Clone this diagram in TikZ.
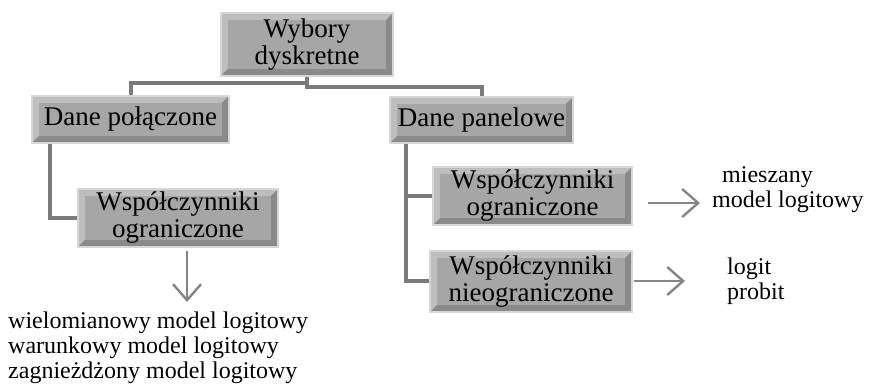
\documentclass[tikz,border=0pt]{standalone}
\usepackage{fontspec}
\setmainfont{Liberation Serif}
\usetikzlibrary{arrows.meta}

\definecolor{boxfill}{HTML}{A6A6A6}
\definecolor{boxlight}{HTML}{BEBEBE}
\definecolor{boxdark}{HTML}{8A8A8A}
\definecolor{boxedge}{HTML}{D6D6D6}
\definecolor{linkgray}{HTML}{7A7A7A}
\definecolor{arrowgray}{HTML}{858585}

\tikzset{
  box/.style={draw=boxedge, line width=1.3pt, fill=boxfill, align=center,
    inner sep=0pt, font=\fontsize{27}{27}\selectfont,
    path picture={
      \fill[boxlight] (path picture bounding box.south west) -- (path picture bounding box.north west)
        -- (path picture bounding box.north east) -- ([shift={(-7pt,-7pt)}]path picture bounding box.north east)
        -- ([shift={(7pt,-7pt)}]path picture bounding box.north west) -- ([shift={(7pt,7pt)}]path picture bounding box.south west) -- cycle;
      \fill[boxdark] (path picture bounding box.south west) -- (path picture bounding box.south east)
        -- (path picture bounding box.north east) -- ([shift={(-7pt,-7pt)}]path picture bounding box.north east)
        -- ([shift={(-7pt,7pt)}]path picture bounding box.south east) -- ([shift={(7pt,7pt)}]path picture bounding box.south west) -- cycle;
      \fill[boxfill] ([shift={(7pt,7pt)}]path picture bounding box.south west) rectangle ([shift={(-7pt,-7pt)}]path picture bounding box.north east);
    }},
  link/.style={draw=linkgray, line width=4pt},
  arr/.style={draw=arrowgray, line width=2.4pt, -{Straight Barb[length=16pt,width=28pt,line width=2.4pt]}},
  outtext/.style={align=left, inner sep=0pt, font=\fontsize{24}{25}\selectfont}
}

\begin{document}
\begin{tikzpicture}[x=1pt,y=-1pt]
  \useasboundingbox (0,0) rectangle (889,387);

  % boxes
  \node[box, minimum width=172pt, minimum height=63pt] (root) at (307,44.5) {Wybory\\dyskretne};
  \node[box, minimum width=197pt, minimum height=47pt] (dpol) at (130.5,119.5) {Dane połączone};
  \node[box, minimum width=183pt, minimum height=46pt] (dpan) at (481.5,120) {Dane panelowe};
  \node[box, minimum width=200pt, minimum height=58pt] (wspl) at (178,218) {Współczynniki\\ograniczone};
  \node[box, minimum width=199pt, minimum height=58pt] (wspo) at (532.5,196) {Współczynniki\\ograniczone};
  \node[box, minimum width=202pt, minimum height=61pt] (wspn) at (531,281.5) {Współczynniki\\nieograniczone};

  % texts (base = last line)
  \node[outtext, anchor=base west] (modl) at (8,378) {wielomianowy model logitowy\\warunkowy model logitowy\\zagnieżdżony model logitowy};
  \node[outtext, anchor=base west] (mies) at (712,208) {\hspace{10pt}mieszany\\model logitowy};
  \node[outtext, anchor=base west] (lopr) at (727,300) {logit\\probit};

  % connectors
  \draw[link] (root.south) -- ++(0,6) -| (dpol.north);
  \draw[link] (root.south) -- ++(0,10) -| (dpan.north);
  \draw[link] ([xshift=19pt]dpol.south west) |- (wspl.west);
  \draw[link] ([xshift=17pt]dpan.south west) |- (wspo.west);
  \draw[link] ([xshift=17pt]dpan.south west) |- (wspn.west);

  % arrows
  \coordinate (e1) at (187,302);
  \coordinate (e2) at (700,203);
  \coordinate (e3) at (685,281);
  \draw[arr, shorten <=3pt] (wspl.south -| e1) -- (e1);
  \draw[arr, shorten <=15pt] (wspo.east |- e2) -- (e2);
  \draw[arr, shorten <=1pt] (wspn.east |- e3) -- (e3);
\end{tikzpicture}
\end{document}
